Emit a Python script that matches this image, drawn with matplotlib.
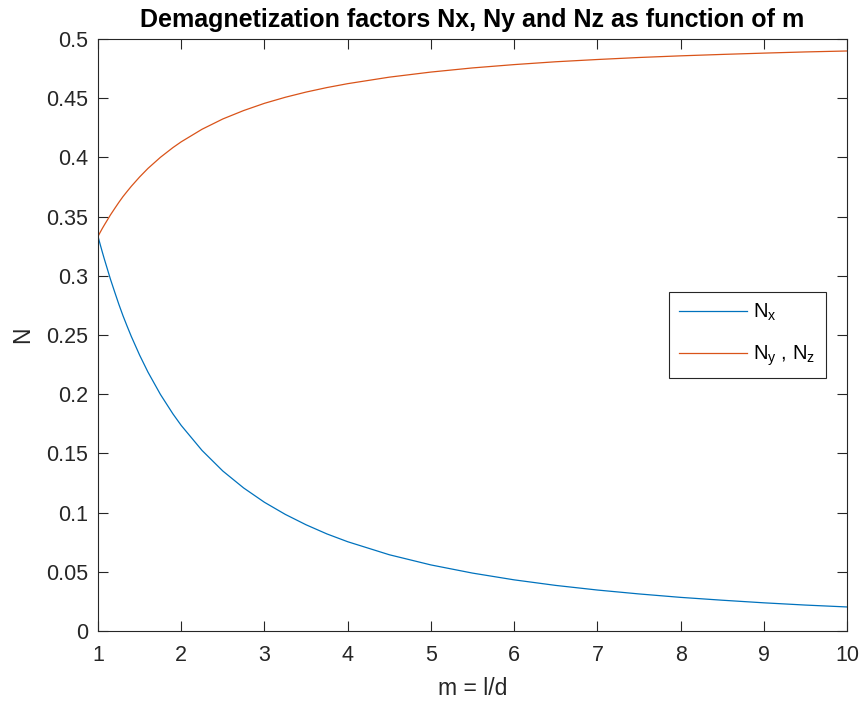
import matplotlib
matplotlib.use('Agg')
import matplotlib.pyplot as plt

plt.rcParams['font.family'] = ['Liberation Sans', 'DejaVu Sans']
plt.rcParams['mathtext.fontset'] = 'custom'
plt.rcParams['mathtext.rm'] = 'Liberation Sans'
plt.rcParams['mathtext.it'] = 'Liberation Sans'

# aspect ratio m = l/d and demagnetization factors
m = [1.0, 1.025, 1.05, 1.075, 1.1, 1.15, 1.2, 1.25, 1.3, 1.35, 1.4, 1.5, 1.6,
     1.75, 1.9, 2.0, 2.25, 2.5, 2.75, 3.0, 3.25, 3.5, 3.75, 4.0, 4.5, 5.0,
     5.5, 6.0, 6.5, 7.0, 7.5, 8.0, 8.5, 9.0, 9.5, 10.0]
nx = [0.3333, 0.3268, 0.3205, 0.3144, 0.3086, 0.2970, 0.2864, 0.2760, 0.2663,
      0.2574, 0.2488, 0.2330, 0.2187, 0.1998, 0.1834, 0.1736, 0.1525, 0.1351,
      0.1208, 0.1087, 0.0985, 0.0897, 0.0820, 0.0754, 0.0644, 0.0558, 0.0489,
      0.0432, 0.0385, 0.0346, 0.0313, 0.0284, 0.0260, 0.0238, 0.0219, 0.0203]
ny = [0.3333, 0.3366, 0.3398, 0.3428, 0.3457, 0.3515, 0.3568, 0.3620, 0.3669,
      0.3713, 0.3756, 0.3835, 0.3907, 0.4001, 0.4083, 0.4132, 0.4238, 0.4325,
      0.4396, 0.4457, 0.4508, 0.4552, 0.4590, 0.4623, 0.4678, 0.4721, 0.4756,
      0.4784, 0.4808, 0.4827, 0.4844, 0.4858, 0.4870, 0.4881, 0.4891, 0.4899]

xticks = [1, 2, 3, 4, 5, 6, 7, 8, 9, 10]
yticks = [0, 0.05, 0.1, 0.15, 0.2, 0.25, 0.3, 0.35, 0.4, 0.45, 0.5]
ytick_labels = ['0', '0.05', '0.1', '0.15', '0.2', '0.25', '0.3', '0.35', '0.4', '0.45', '0.5']

axcol = (0.15, 0.15, 0.15)

fig = plt.figure(figsize=(8.62, 7.07), dpi=100)
ax = fig.add_axes([0.1137, 0.1075, 0.869, 0.8373])

ax.plot(m, nx, color=(0, 0.447, 0.741), lw=0.9, label=r'N$_\mathrm{x}$')
ax.plot(m, ny, color=(0.85, 0.325, 0.098), lw=0.9, label=r'N$_\mathrm{y}$ , N$_\mathrm{z}$')

ax.set_xlim(1, 10)
ax.set_ylim(0, 0.5)
ax.set_xticks(xticks)
ax.set_yticks(yticks)
ax.set_yticklabels(ytick_labels)
ax.tick_params(direction='in', length=7, width=0.8, colors=axcol, labelsize=15.5,
               top=True, right=True)
ax.tick_params(axis='x', pad=10)
ax.tick_params(axis='y', pad=7)
for s in ax.spines.values():
    s.set_color(axcol)
    s.set_linewidth(0.8)

ax.set_xlabel('m = l/d', fontsize=16.5, color=axcol, labelpad=8)
ax.set_ylabel('N', fontsize=16.5, color=axcol, labelpad=9)
ax.set_title('Demagnetization factors Nx, Ny and Nz as function of m',
             fontsize=18, fontweight='bold', pad=9)

leg = ax.legend(loc='center left', bbox_to_anchor=(0.762, 0.5), fontsize=14.5,
                fancybox=False, framealpha=1, edgecolor=axcol,
                handlelength=3.4, handletextpad=0.3, borderpad=0.5,
                labelspacing=1.0, borderaxespad=0)
leg.get_frame().set_linewidth(0.8)

fig.savefig('out.png', dpi=100)
